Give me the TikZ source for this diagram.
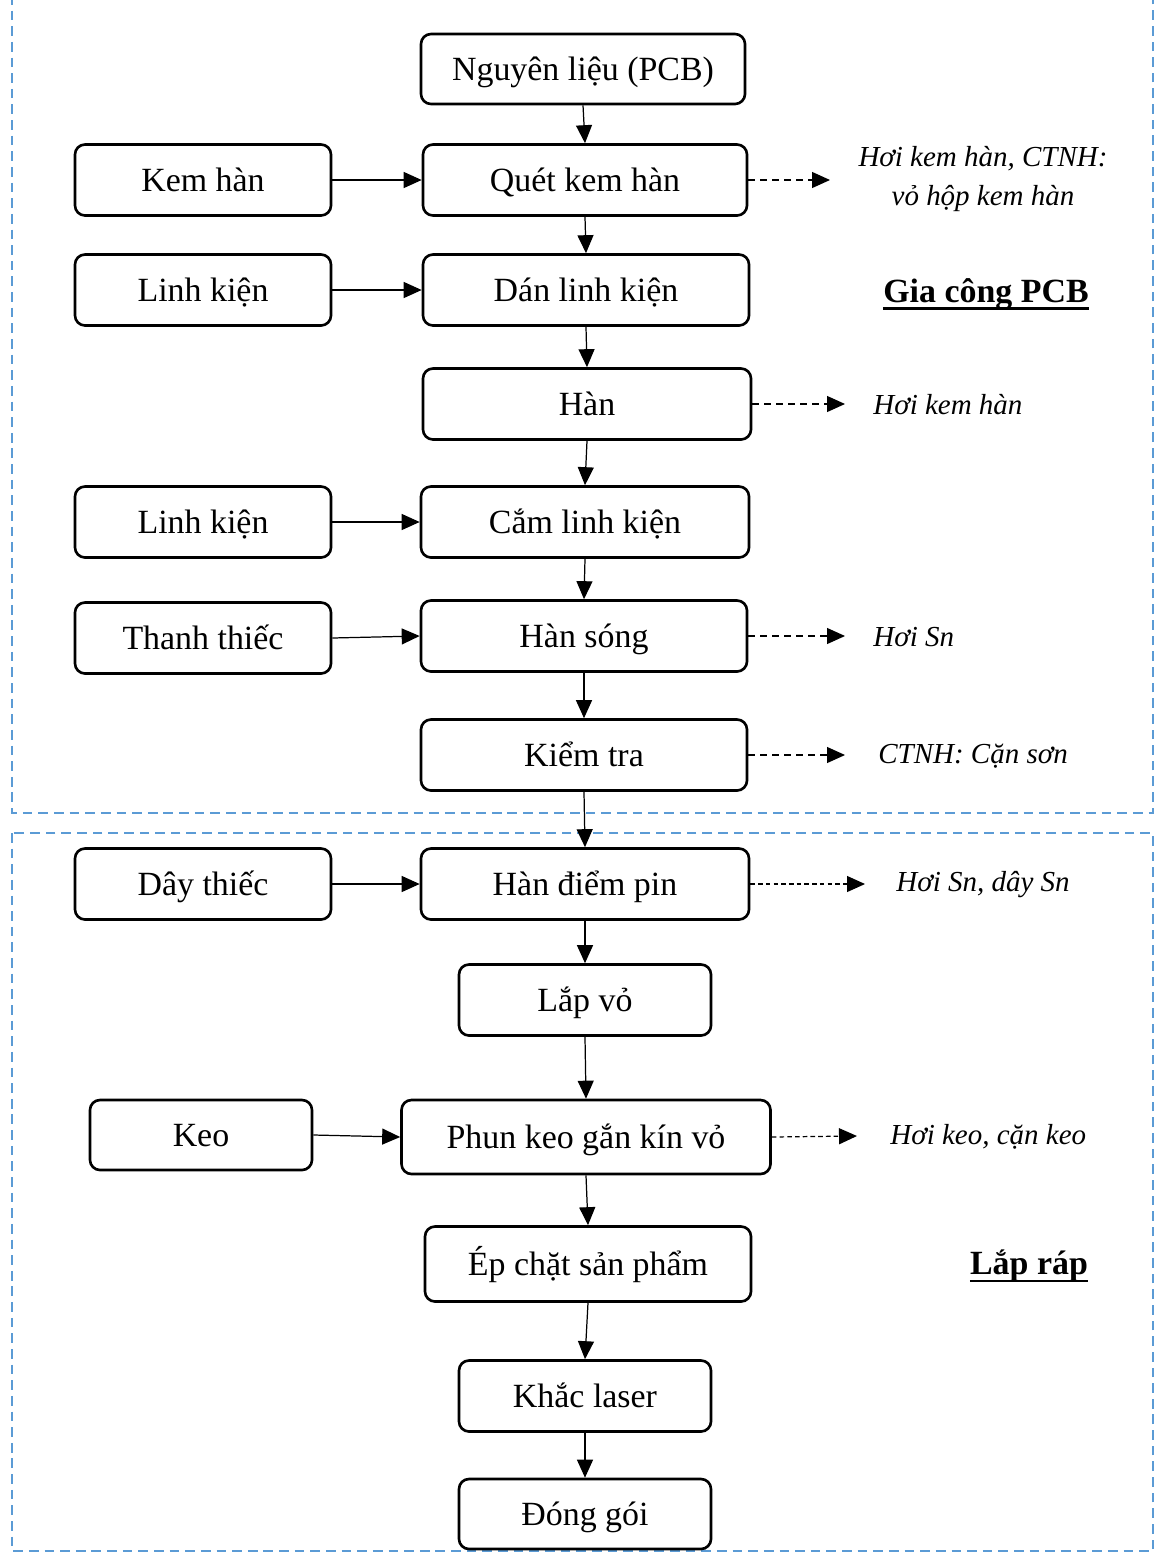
\documentclass[tikz,border=0pt]{standalone}
\usepackage{fontspec}
\setmainfont{Liberation Serif}
\usetikzlibrary{arrows.meta}
\definecolor{frameblue}{RGB}{91,155,213}
\begin{document}
\begin{tikzpicture}[x=0.02cm,y=-0.02cm,
  box/.style={draw, line width=1.5pt, rounded corners=0.2cm, align=center,
    inner sep=0pt, text height=17pt, text depth=3.8pt,
    font=\fontsize{19.3}{23}\selectfont},
  flow/.style={line width=0.7pt, -{Triangle[length=0.36cm,width=0.32cm]}},
  emit/.style={line width=0.7pt, dash pattern=on 4pt off 2.8pt, -{Triangle[length=0.36cm,width=0.32cm]}},
  emitfine/.style={line width=0.7pt, dash pattern=on 2.6pt off 1.8pt, -{Triangle[length=0.36cm,width=0.32cm]}},
  outtxt/.style={inner sep=0pt, anchor=west, font=\fontsize{16.5}{22.2}\selectfont\itshape},
  zone/.style={draw=frameblue, line width=0.8pt, dash pattern=on 5.5pt off 3.4pt},
  zonetitle/.style={inner sep=0pt, font=\fontsize{19.3}{23}\selectfont\bfseries},
  underbar/.style={line width=1.6pt}
]
\useasboundingbox (0,0) rectangle (1156,1559);

% dashed zone frames
\draw[zone] (12,-5) -- (12,813) -- (1153,813) -- (1153,-5);
\draw[zone] (12,833) rectangle (1153,1551);

% main process chain
\node[box, minimum width=0.02*324cm, minimum height=0.02*70cm] (nl) at (583,69) {Nguyên liệu (PCB)};
\node[box, minimum width=0.02*324cm, minimum height=0.02*71cm] (quet) at (585,180) {Quét kem hàn};
\node[box, minimum width=0.02*326cm, minimum height=0.02*71cm] (dan) at (586,290) {Dán linh kiện};
\node[box, minimum width=0.02*328cm, minimum height=0.02*71cm] (han) at (587,404) {Hàn};
\node[box, minimum width=0.02*328cm, minimum height=0.02*71cm] (cam) at (585,522) {Cắm linh kiện};
\node[box, minimum width=0.02*326cm, minimum height=0.02*71cm] (hs) at (584,636) {Hàn sóng};
\node[box, minimum width=0.02*326cm, minimum height=0.02*71cm] (kt) at (584,755) {Kiểm tra};
\node[box, minimum width=0.02*328cm, minimum height=0.02*71cm] (hdp) at (585,884) {Hàn điểm pin};
\node[box, minimum width=0.02*252cm, minimum height=0.02*71cm] (lv) at (585,1000) {Lắp vỏ};
\node[box, minimum width=0.02*369cm, minimum height=0.02*74cm] (phun) at (586,1137) {Phun keo gắn kín vỏ};
\node[box, minimum width=0.02*326cm, minimum height=0.02*75cm] (ep) at (588,1264) {Ép chặt sản phẩm};
\node[box, minimum width=0.02*252cm, minimum height=0.02*71cm] (kl) at (585,1396) {Khắc laser};
\node[box, minimum width=0.02*252cm, minimum height=0.02*70cm] (dg) at (585,1514) {Đóng gói};

% input materials
\node[box, minimum width=0.02*256cm, minimum height=0.02*71cm] (kem) at (203,180) {Kem hàn};
\node[box, minimum width=0.02*256cm, minimum height=0.02*71cm] (lk1) at (203,290) {Linh kiện};
\node[box, minimum width=0.02*256cm, minimum height=0.02*71cm] (lk2) at (203,522) {Linh kiện};
\node[box, minimum width=0.02*256cm, minimum height=0.02*71cm] (thanh) at (203,638) {Thanh thiếc};
\node[box, minimum width=0.02*256cm, minimum height=0.02*71cm] (day) at (203,884) {Dây thiếc};
\node[box, minimum width=0.02*222cm, minimum height=0.02*70cm] (keo) at (201,1135) {Keo};

% emissions and wastes
\node[inner sep=0pt, align=center, font=\fontsize{16.5}{22.2}\selectfont\itshape] (o1) at (983,179) {Hơi kem hàn, CTNH:\\vỏ hộp kem hàn};
\node[outtxt] (o2) at (873,405) {Hơi kem hàn};
\node[outtxt] (o3) at (873,637) {Hơi Sn};
\node[outtxt] (o4) at (878,756) {CTNH: Cặn sơn};
\node[outtxt] (o5) at (896,885) {Hơi Sn, dây Sn};
\node[outtxt] (o6) at (890,1137) {Hơi keo, cặn keo};

% zone titles, underlined
\node[zonetitle] (z1) at (986,294) {Gia công PCB};
\node[zonetitle] (z2) at (1029,1266) {Lắp ráp};
\draw[underbar] ([yshift=-3.6pt]z1.base west) -- ([yshift=-3.6pt]z1.base east);
\draw[underbar] ([yshift=-3.6pt]z2.base west) -- ([yshift=-3.6pt]z2.base east);

% arrow end points for emissions
\coordinate (e1) at (830,180);
\coordinate (e2) at (845,404);
\coordinate (e3) at (845,636);
\coordinate (e4) at (845,755);
\coordinate (e5) at (865,884);
\coordinate (e6) at (857,1136);

% main flow
\draw[flow] (nl.south) -- (quet.north);
\draw[flow] (quet.south) -- (dan.north);
\draw[flow] (dan.south) -- (han.north);
\draw[flow] (han.south) -- (cam.north);
\draw[flow] (cam.south) -- (hs.north);
\draw[flow] (hs.south) -- (kt.north);
\draw[flow] (kt.south) -- (hdp.north);
\draw[flow] (hdp.south) -- (lv.north);
\draw[flow] (lv.south) -- (phun.north);
\draw[flow] (phun.south) -- (ep.north);
\draw[flow] (ep.south) -- (kl.north);
\draw[flow] (kl.south) -- (dg.north);

% inputs
\draw[flow] (kem.east) -- (quet.west);
\draw[flow] (lk1.east) -- (dan.west);
\draw[flow] (lk2.east) -- (cam.west);
\draw[flow] (thanh.east) -- (hs.west);
\draw[flow] (day.east) -- (hdp.west);
\draw[flow] (keo.east) -- (phun.west);

% outputs
\draw[emit] (quet.east) -- (e1);
\draw[emit] (han.east) -- (e2);
\draw[emit] (hs.east) -- (e3);
\draw[emit] (kt.east) -- (e4);
\draw[emitfine] (hdp.east) -- (e5);
\draw[emitfine] (phun.east) -- (e6);
\end{tikzpicture}
\end{document}
